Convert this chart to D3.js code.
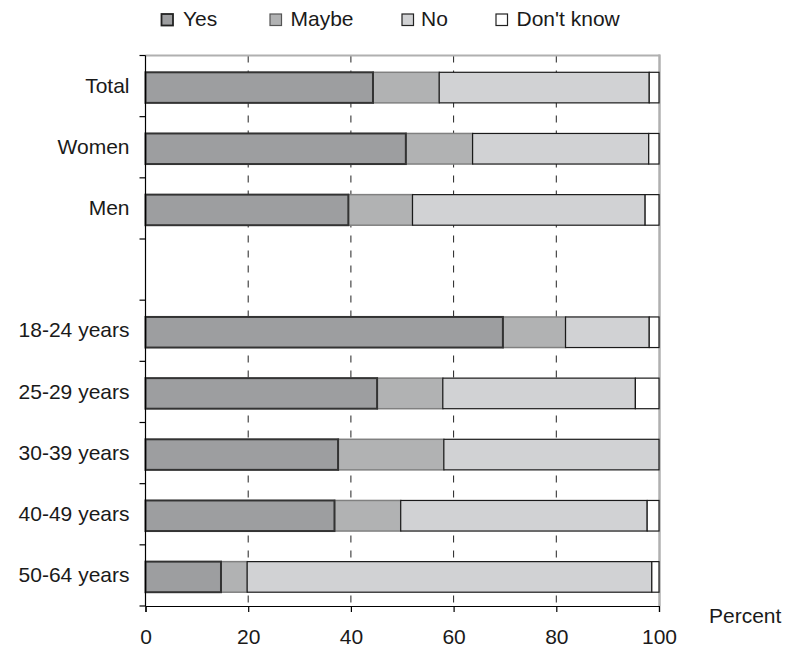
<!DOCTYPE html>
<html>
<head>
<meta charset="utf-8">
<script src="https://cdn.jsdelivr.net/npm/d3@7"></script>
<style>
  html, body { margin: 0; padding: 0; background: #fff; }
  text { font-family: "Liberation Sans", Arial, sans-serif; fill: #1a1a1a; }
</style>
</head>
<body>
<svg id="chart" width="786" height="650"></svg>
<script>
// ---- data ----
const categories = ["Total", "Women", "Men", "", "18-24 years", "25-29 years", "30-39 years", "40-49 years", "50-64 years"];
const seriesNames = ["Yes", "Maybe", "No", "Don't know"];
const yesValues   = [44.3, 50.7, 39.5, null, 69.6, 45.1, 37.5, 36.8, 14.7];
const maybeValues = [12.9, 13.0, 12.5, null, 12.2, 12.8, 20.6, 12.9, 5.1];
const noValues    = [40.9, 34.3, 45.3, null, 16.3, 37.5, 41.9, 48.0, 78.8];
const dkValues    = [1.9, 2.0, 2.7, null, 1.9, 4.6, 0.0, 2.3, 1.4];
const xTicks = [0, 20, 40, 60, 80, 100];
const gridTicks = [20, 40, 60, 80];
const xTitle = "Percent";

// ---- styles ----
const styles = [
  { fill: "#9d9ea0", stroke: "#333333", sw: 2 },
  { fill: "#b1b2b3", stroke: "#808080", sw: 1.5 },
  { fill: "#d1d2d4", stroke: "#1a1a1a", sw: 1.2 },
  { fill: "#ffffff", stroke: "#1a1a1a", sw: 1.2 }
];
const fontSize = "21px";

const svg = d3.select("#chart");
const keys = categories.map((c, i) => "k" + i);
const plotL = 145.5, plotR = 659, plotT = 55.5, plotB = 606;

const x = d3.scaleLinear().domain([0, 100]).range([plotL, plotR]);
const y = d3.scaleBand().domain(keys).range([plotT, plotB]).paddingInner(0.5).paddingOuter(0.25);

// gridlines
svg.append("g").selectAll("line").data(gridTicks).join("line")
  .attr("x1", d => x(d)).attr("x2", d => x(d))
  .attr("y1", plotT).attr("y2", plotB)
  .attr("stroke", "#222").attr("stroke-width", 1).attr("stroke-dasharray", "7,8");

// plot border (top & right, gray)
svg.append("line").attr("x1", plotL).attr("x2", plotR + 1).attr("y1", plotT).attr("y2", plotT)
  .attr("stroke", "#b0b0b0").attr("stroke-width", 2);
svg.append("line").attr("x1", plotR + 0.5).attr("x2", plotR + 0.5).attr("y1", plotT - 1).attr("y2", plotB)
  .attr("stroke", "#b0b0b0").attr("stroke-width", 2.5);

// stacked data
const stacked = categories.map((c, i) => {
  const vals = [yesValues[i], maybeValues[i], noValues[i], dkValues[i]];
  if (vals[0] === null) return [];
  let acc = 0;
  return vals.map((v, s) => { const seg = { key: keys[i], s, x0: acc, x1: acc + v }; acc += v; return seg; });
});
const segs = stacked.flat();
const drawOrder = [1, 2, 3, 0];
const barOffset = 1.5;
drawOrder.forEach(s => {
  svg.append("g").selectAll("rect").data(segs.filter(d => d.s === s && d.x1 - d.x0 > 0.05)).join("rect")
    .attr("x", d => x(d.x0)).attr("width", d => x(d.x1) - x(d.x0))
    .attr("y", d => y(d.key) + barOffset).attr("height", y.bandwidth())
    .attr("fill", styles[s].fill).attr("stroke", styles[s].stroke).attr("stroke-width", styles[s].sw);
});

// left axis: line, boundary ticks, labels
svg.append("line").attr("x1", plotL).attr("x2", plotL).attr("y1", plotT).attr("y2", plotB)
  .attr("stroke", "#000").attr("stroke-width", 1.2);
const boundaries = d3.range(categories.length + 1).map(i => plotT + i * y.step());
svg.append("g").selectAll("line").data(boundaries).join("line")
  .attr("x1", plotL - 6).attr("x2", plotL).attr("y1", d => d).attr("y2", d => d)
  .attr("stroke", "#000").attr("stroke-width", 1.2);
const yAxis = svg.append("g").attr("transform", `translate(${plotL},0)`)
  .call(d3.axisLeft(y).tickSize(0).tickPadding(16).tickFormat((k, i) => categories[i]));
yAxis.select(".domain").remove();
yAxis.selectAll("text").style("font-size", fontSize).style("font-family", "'Liberation Sans', Arial, sans-serif").attr("fill", "#1a1a1a");

// bottom axis
const xAxis = svg.append("g").attr("transform", `translate(0,${plotB})`)
  .call(d3.axisBottom(x).tickValues(xTicks).tickSize(6).tickPadding(17).tickFormat(d3.format("d")));
xAxis.select(".domain").attr("stroke", "#000").attr("stroke-width", 1.2);
xAxis.selectAll(".tick line").attr("stroke", "#000").attr("stroke-width", 1.2);
xAxis.selectAll("text").style("font-size", fontSize).style("font-family", "'Liberation Sans', Arial, sans-serif").attr("fill", "#1a1a1a");

svg.append("text").attr("x", 709).attr("y", 623).style("font-size", fontSize).text(xTitle);

// legend
const legendX = [161.5, 270, 402, 496];
const legendTextX = [183, 290.5, 421, 516.5];
const lg = svg.append("g");
seriesNames.forEach((n, i) => {
  lg.append("rect").attr("x", legendX[i]).attr("y", 14).attr("width", 11.5).attr("height", 11.5)
    .attr("fill", styles[i].fill).attr("stroke", i === 1 ? "#555" : "#222").attr("stroke-width", i === 0 ? 1.8 : 1.2);
  lg.append("text").attr("x", legendTextX[i]).attr("y", 26).style("font-size", fontSize).text(n);
});
</script>
</body>
</html>
